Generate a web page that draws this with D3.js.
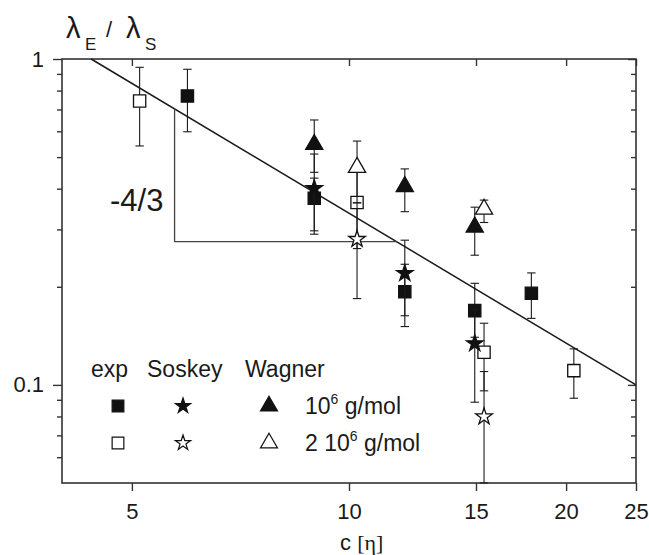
<!DOCTYPE html>
<html><head><meta charset="utf-8">
<script src="https://cdn.jsdelivr.net/npm/d3@7/dist/d3.min.js"></script>
<style>body{margin:0;background:#fff} svg{display:block}</style>
</head><body><svg id="c" width="649" height="555"></svg>
<script>
// ---- data ----
const xTicks = [5, 10, 15, 20, 25];
const yMajor = [0.1, 1];
const yMinor = [0.06, 0.07, 0.08, 0.09, 0.2, 0.3, 0.4, 0.5, 0.6, 0.7, 0.8, 0.9];
const fitX = [4.39, 25];
const fitY = [1, 0.1];
const slopeX = [5.73, 5.73, 11.65];
const slopeY = [0.703, 0.275, 0.275];

const expFilledX  = [5.97, 8.95, 11.95, 14.94, 17.9];
const expFilledY  = [0.770, 0.374, 0.193, 0.169, 0.191];
const expFilledLo = [0.598, 0.290, 0.151, 0.140, 0.160];
const expFilledHi = [0.930, 0.431, 0.2345, 0.205, 0.2206];

const expOpenX  = [5.125, 10.26, 15.39, 20.5];
const expOpenY  = [0.743, 0.363, 0.126, 0.1106];
const expOpenLo = [0.541, 0.262, 0.0959, 0.091];
const expOpenHi = [0.943, 0.466, 0.1546, 0.129];

const soskeyFilledX  = [8.95, 11.95, 14.94];
const soskeyFilledY  = [0.401, 0.220, 0.134];
const soskeyFilledLo = [0.297, 0.163, 0.0885];
const soskeyFilledHi = [0.511, 0.278, 0.17];

const soskeyOpenX  = [10.26, 15.39];
const soskeyOpenY  = [0.280, 0.0799];
const soskeyOpenLo = [0.184, 0.05];
const soskeyOpenHi = [0.362, 0.1099];

const wagnerFilledX  = [8.95, 11.95, 14.94];
const wagnerFilledY  = [0.547, 0.406, 0.305];
const wagnerFilledLo = [0.449, 0.340, 0.250];
const wagnerFilledHi = [0.650, 0.460, 0.351];

const wagnerOpenX  = [10.26, 15.39];
const wagnerOpenY  = [0.465, 0.346];
const wagnerOpenLo = [0.362, 0.315];
const wagnerOpenHi = [0.560, 0.369];

const legendCols = ["exp", "Soskey", "Wagner"];
const legendRows = ["10", "2 10"];

// ---- drawing ----
const svg = d3.select("#c");
const L = 62, R = 636, T = 59, B = 483;
const x = d3.scaleLog().domain([4, 25]).range([L, R]);
const y = d3.scaleLog().domain([0.05, 1]).range([B, T]);
const ink = "#1a1a1a", axisInk = "#333";
const font = "'Liberation Sans', Arial, sans-serif";

// axes
function styleAxis(g) {
  g.selectAll(".domain").remove();
  g.selectAll("line").attr("stroke", axisInk).attr("stroke-width", 1.4);
  g.selectAll("text").attr("fill", ink).style("font-family", font).style("font-size", "22px");
}
svg.append("g").attr("transform", `translate(0,${B})`)
  .call(d3.axisBottom(x).tickValues(xTicks).tickFormat(d3.format("d")).tickSize(8).tickPadding(12)).call(styleAxis);
svg.append("g").attr("transform", `translate(0,${T})`)
  .call(d3.axisTop(x).tickValues(xTicks).tickFormat("").tickSize(-7)).call(styleAxis);
svg.append("g").attr("transform", `translate(${L},0)`)
  .call(d3.axisLeft(y).tickValues(yMajor).tickFormat(d3.format("")).tickSize(9).tickPadding(9)).call(styleAxis);
svg.append("g").attr("transform", `translate(${L},0)`)
  .call(d3.axisLeft(y).tickValues(yMinor).tickFormat("").tickSize(5)).call(styleAxis);
svg.append("g").attr("transform", `translate(${R},0)`)
  .call(d3.axisRight(y).tickValues(yMajor).tickFormat("").tickSize(-8)).call(styleAxis);
svg.append("g").attr("transform", `translate(${R},0)`)
  .call(d3.axisRight(y).tickValues(yMinor).tickFormat("").tickSize(-5)).call(styleAxis);

// frame
svg.append("rect").attr("x", L).attr("y", T).attr("width", R - L).attr("height", B - T)
  .attr("fill", "none").attr("stroke", axisInk).attr("stroke-width", 1.6);

// fit line and slope triangle
const line = d3.line().x(d => x(d[0])).y(d => y(d[1]));
svg.append("path").attr("d", line(d3.zip(fitX, fitY)))
  .attr("fill", "none").attr("stroke", ink).attr("stroke-width", 1.5);
svg.append("path").attr("d", line(d3.zip(slopeX, slopeY)))
  .attr("fill", "none").attr("stroke", "#444").attr("stroke-width", 1.3);
svg.append("text").attr("x", 110).attr("y", 211).text("-4/3")
  .attr("fill", ink).style("font-family", font).style("font-size", "31px");

// series
const shapes = {square: d3.symbolSquare, star: d3.symbolStar, tri: d3.symbolTriangle};
const sizes = {square: 150, star: 85, tri: 128};
function series(xs, ys, lo, hi, shape, filled) {
  const g = svg.append("g");
  const cap = 4.2;
  xs.forEach((xv, i) => {
    const px = x(xv), y1 = y(lo[i]), y2 = y(hi[i]);
    g.append("line").attr("x1", px).attr("x2", px).attr("y1", y1).attr("y2", y2)
      .attr("stroke", ink).attr("stroke-width", 1.1);
    [y1, y2].forEach(py => g.append("line").attr("x1", px - cap).attr("x2", px + cap)
      .attr("y1", py).attr("y2", py).attr("stroke", ink).attr("stroke-width", 1.1));
  });
  xs.forEach((xv, i) => {
    g.append("path").attr("d", d3.symbol(shapes[shape], sizes[shape])())
      .attr("transform", `translate(${x(xv)},${y(ys[i])})`)
      .attr("fill", filled ? "#111" : "#fff").attr("stroke", "#111").attr("stroke-width", 1.3);
  });
}
series(expFilledX, expFilledY, expFilledLo, expFilledHi, "square", true);
series(expOpenX, expOpenY, expOpenLo, expOpenHi, "square", false);
series(soskeyFilledX, soskeyFilledY, soskeyFilledLo, soskeyFilledHi, "star", true);
series(soskeyOpenX, soskeyOpenY, soskeyOpenLo, soskeyOpenHi, "star", false);
series(wagnerFilledX, wagnerFilledY, wagnerFilledLo, wagnerFilledHi, "tri", true);
series(wagnerOpenX, wagnerOpenY, wagnerOpenLo, wagnerOpenHi, "tri", false);

// legend
const lg = svg.append("g").style("font-family", font).attr("fill", ink);
const colX = [91, 147, 245];
legendCols.forEach((t, i) => lg.append("text").attr("x", colX[i]).attr("y", 377).style("font-size", "23px").text(t));
const symX = [118, 183, 269], rowY = [406, 443];
const legShapes = ["square", "star", "tri"], legSizes = {square: 137, star: 72, tri: 125};
rowY.forEach((ry, r) => {
  legShapes.forEach((s, i) => {
    lg.append("path").attr("d", d3.symbol(shapes[s], legSizes[s])())
      .attr("transform", `translate(${symX[i]},${ry})`)
      .attr("fill", r === 0 ? "#111" : "#fff").attr("stroke", "#111").attr("stroke-width", 1.2);
  });
  const t = lg.append("text").attr("x", 305).attr("y", ry + 8).style("font-size", "23px");
  t.append("tspan").text(legendRows[r]);
  t.append("tspan").attr("dy", -10).style("font-size", "14px").text("6");
  t.append("tspan").attr("dy", 10).text(" g/mol");
});

// title  λE / λS
const tg = svg.append("g").attr("fill", ink).style("font-family", font);
tg.append("text").attr("x", 66).attr("y", 38).style("font-size", "29px").text("λ");
tg.append("text").attr("x", 85).attr("y", 50).style("font-size", "17px").text("E");
tg.append("text").attr("x", 106).attr("y", 37).style("font-size", "22px").text("/");
tg.append("text").attr("x", 126).attr("y", 38).style("font-size", "29px").text("λ");
tg.append("text").attr("x", 145).attr("y", 50).style("font-size", "17px").text("S");

// x label
const xl = svg.append("text").attr("x", 340).attr("y", 550).attr("fill", ink).style("font-size", "22px");
xl.append("tspan").style("font-family", font).text("c ");
xl.append("tspan").style("font-family", "'Liberation Serif', 'Times New Roman', serif").text("[η]");
</script></body></html>
